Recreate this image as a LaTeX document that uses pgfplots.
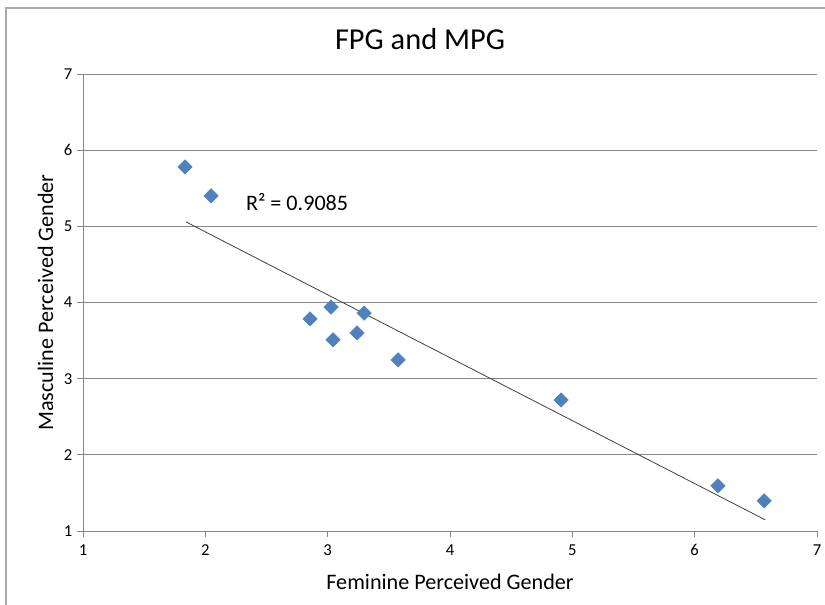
\documentclass[border=0pt]{standalone}
\usepackage{pgfplots}
\pgfplotsset{compat=1.18}
\usepackage{fontspec}
\setmainfont{Carlito}
\definecolor{mk}{HTML}{4F81BD}
\definecolor{gridc}{HTML}{868686}
\begin{document}
\begin{tikzpicture}[x=0.75pt,y=0.75pt]
\path[use as bounding box] (0,0) rectangle (825,605);
\draw[gridc!70, line width=0.9pt] (6,0) -- (6,597) -- (825,597);
\node[font=\fontsize{22.8}{24}\selectfont] at (420,566) {FPG and MPG};
\begin{axis}[
  at={(83*0.75pt,74*0.75pt)}, anchor=south west,
  scale only axis, width=734*0.75pt, height=457*0.75pt,
  xmin=1, xmax=7, ymin=1, ymax=7,
  xtick={1,2,...,7}, ytick={1,2,...,7},
  axis x line*=bottom, axis y line*=left,
  axis line style={gridc, line width=0.6pt, -},
  ymajorgrids, grid style={gridc, line width=0.6pt},
  tick style={gridc, line width=0.6pt},
  tick align=outside, major tick length=4.5pt,
  ticklabel style={font=\fontsize{12.5}{14}\selectfont, text=black},
  xticklabel style={yshift=-2pt},
  /pgf/number format/assume math mode=true,
  xlabel={Feminine Perceived Gender}, ylabel={Masculine Perceived Gender},
  label style={font=\fontsize{16.6}{18}\selectfont},
  xlabel style={yshift=-7pt}, ylabel style={yshift=1pt},
  clip=false,
]
\addplot[only marks, mark=square*, mark size=3.8pt, mark options={fill=mk, draw=mk, rotate=45}] coordinates {
(1.834,5.78) (2.047,5.40) (2.856,3.785) (3.028,3.94) (3.044,3.51)
(3.298,3.86) (3.24,3.60) (3.576,3.247) (4.908,2.72) (6.19,1.593) (6.568,1.396)
};
\addplot[black!75, line width=0.6pt] coordinates {(1.842,5.058) (6.576,1.147)};
\node[font=\fontsize{16.6}{18}\selectfont] at (axis cs:2.75,5.32) {R² = 0.9085};
\end{axis}
\end{tikzpicture}
\end{document}
